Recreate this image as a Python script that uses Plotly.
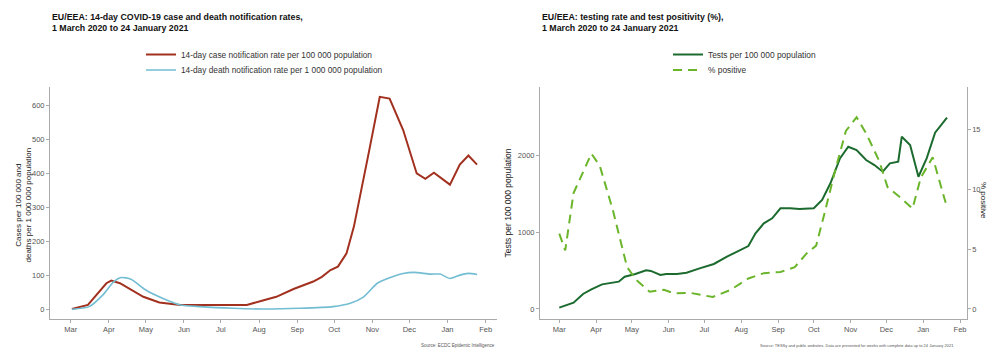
import plotly.graph_objects as go

W, H = 989, 349

# ---------------- Left panel data ----------------
case_dates = ["2020-03-02", "2020-03-15", "2020-03-30", "2020-04-03", "2020-04-10", "2020-04-29",
              "2020-05-12", "2020-05-29", "2020-06-20", "2020-07-05", "2020-07-22", "2020-08-04",
              "2020-08-15", "2020-08-29", "2020-09-07", "2020-09-14", "2020-09-21", "2020-09-28",
              "2020-10-04", "2020-10-11", "2020-10-17", "2020-10-22", "2020-10-29", "2020-11-07",
              "2020-11-15", "2020-11-26", "2020-12-07", "2020-12-14", "2020-12-21", "2021-01-03",
              "2021-01-11", "2021-01-18", "2021-01-25"]
case_rate = [0, 12, 76, 84, 76, 36, 19, 12, 12, 11, 12, 25, 36, 59, 71, 81, 95, 115, 125, 164,
             243, 331, 460, 626, 621, 528, 400, 384, 402, 367, 426, 453, 426]

death_dates = ["2020-03-02", "2020-03-16", "2020-03-27", "2020-04-05", "2020-04-11", "2020-04-19",
               "2020-05-01", "2020-05-15", "2020-05-29", "2020-06-14", "2020-07-11", "2020-08-04",
               "2020-09-03", "2020-09-30", "2020-10-14", "2020-10-25", "2020-11-05", "2020-11-15",
               "2020-11-26", "2020-12-05", "2020-12-18", "2020-12-26", "2021-01-03", "2021-01-11",
               "2021-01-18", "2021-01-25"]
death_rate = [-1, 7, 41, 81, 93, 88, 56, 31, 12, 7, 2, 0, 2, 7, 17, 36, 76, 92, 105, 108, 103,
              103, 90, 100, 105, 102]

# ---------------- Right panel data ----------------
test_dates = ["2020-03-01", "2020-03-07", "2020-03-13", "2020-03-21", "2020-03-28", "2020-04-06",
              "2020-04-13", "2020-04-20", "2020-04-25", "2020-05-04", "2020-05-13", "2020-05-17",
              "2020-05-25", "2020-05-30", "2020-06-08", "2020-06-16", "2020-06-27", "2020-07-09",
              "2020-07-20", "2020-07-31", "2020-08-07", "2020-08-13", "2020-08-20", "2020-08-27",
              "2020-09-03", "2020-09-11", "2020-09-19", "2020-10-01", "2020-10-08", "2020-10-15",
              "2020-10-23", "2020-10-30", "2020-11-06", "2020-11-14", "2020-11-21", "2020-11-28",
              "2020-12-04", "2020-12-11", "2020-12-14", "2020-12-21", "2020-12-28", "2021-01-04",
              "2021-01-11", "2021-01-21"]
tests_rate = [17, 52, 82, 195, 255, 320, 342, 355, 420, 455, 502, 495, 442, 455, 455, 472, 528,
              585, 680, 766, 818, 983, 1113, 1178, 1308, 1308, 1300, 1308, 1416, 1633, 1957, 2108,
              2065, 1935, 1870, 1784, 1892, 1913, 2238, 2130, 1718, 1960, 2290, 2485]

pos_dates = ["2020-03-01", "2020-03-06", "2020-03-13", "2020-03-21", "2020-03-28", "2020-04-04",
             "2020-04-15", "2020-04-27", "2020-05-05", "2020-05-16", "2020-05-28", "2020-06-06",
             "2020-06-19", "2020-07-08", "2020-07-23", "2020-08-07", "2020-08-20", "2020-09-03",
             "2020-09-15", "2020-09-25", "2020-10-03", "2020-10-10", "2020-10-19", "2020-10-28",
             "2020-11-06", "2020-11-14", "2020-11-25", "2020-12-02", "2020-12-12", "2020-12-23",
             "2020-12-30", "2021-01-09", "2021-01-21"]
pos_pct = [6.3, 4.9, 9.7, 11.5, 13.0, 12.0, 8.3, 3.5, 2.4, 1.45, 1.6, 1.3, 1.35, 1.0, 1.6, 2.55,
           3.0, 3.1, 3.5, 4.65, 5.3, 8.0, 11.6, 14.9, 16.05, 14.7, 12.4, 10.2, 9.4, 8.4, 11.0,
           12.7, 8.5]

month_ticks_start = "2020-03-01"

RED = "#A2301F"
BLUE = "#72BDD2"
DKGREEN = "#1C6B2E"
LTGREEN = "#6BB52B"
AXIS = "#AAAAAA"
FONT = "Liberation Sans, Arial"
TICKFONT = dict(family=FONT, size=7.5, color="#555555")

fig = go.Figure()

fig.add_trace(go.Scatter(x=case_dates, y=case_rate, mode="lines",
                         line=dict(color=RED, width=2),
                         name="14-day case notification rate per 100 000 population",
                         xaxis="x", yaxis="y", legend="legend"))
fig.add_trace(go.Scatter(x=death_dates, y=death_rate, mode="lines",
                         line=dict(color=BLUE, width=1.6, shape="spline", smoothing=0.6),
                         name="14-day death notification rate per 1 000 000 population",
                         xaxis="x", yaxis="y", legend="legend2"))
fig.add_trace(go.Scatter(x=test_dates, y=tests_rate, mode="lines",
                         line=dict(color=DKGREEN, width=2),
                         name="Tests per 100 000 population",
                         xaxis="x2", yaxis="y2", legend="legend3"))
fig.add_trace(go.Scatter(x=pos_dates, y=pos_pct, mode="lines",
                         line=dict(color=LTGREEN, width=2, dash="9px,6px"),
                         name="% positive",
                         xaxis="x2", yaxis="y3", legend="legend4"))

y_top = 1 - 87 / H
y_bot = 1 - 319 / H

common_x = dict(type="date", tickformat="%b", dtick="M1", tick0=month_ticks_start,
                showline=True, linecolor=AXIS, linewidth=1, ticks="outside", ticklen=3,
                tickcolor=AXIS, showgrid=False, zeroline=False, tickfont=TICKFONT)
common_y = dict(showline=True, linecolor=AXIS, linewidth=1, ticks="outside", ticklen=3,
                tickcolor=AXIS, showgrid=False, zeroline=False, tickfont=TICKFONT)


def leg(xpx, ypx, size):
    return dict(x=xpx / W, xanchor="left", y=1 - ypx / H, yanchor="middle",
                font=dict(size=size, color="#333333", family=FONT),
                bgcolor="rgba(0,0,0,0)", itemwidth=30)


fig.update_layout(
    width=W, height=H,
    margin=dict(l=0, r=0, t=0, b=0),
    paper_bgcolor="white", plot_bgcolor="white",
    font=dict(family=FONT),
    xaxis=dict(domain=[50 / W, 497 / W], anchor="y",
               range=["2020-02-13 05:00", "2021-02-10 05:00"], **common_x),
    yaxis=dict(domain=[y_bot, y_top], anchor="x", range=[-29.5, 655],
               tickvals=[0, 100, 200, 300, 400, 500, 600], **common_y),
    xaxis2=dict(domain=[540 / W, 966.7 / W], anchor="y2",
                range=["2020-02-13 19:00", "2021-02-06 14:00"], **common_x),
    yaxis2=dict(domain=[y_bot, y_top], anchor="x2", range=[-130, 2884],
                tickvals=[0, 1000, 2000],
                title=dict(text="Tests per 100 000 population",
                           font=dict(size=8.5, color="#222222"), standoff=4),
                **common_y),
    yaxis3=dict(overlaying="y2", side="right", anchor="x2", range=[-0.84, 18.58],
                tickvals=[0, 5, 10, 15], **common_y),
    legend=leg(141, 54.5, 8.3),
    legend2=leg(141, 70, 8.3),
    legend3=leg(668, 54.5, 8.4),
    legend4=leg(668, 70, 8.4),
    showlegend=True,
)

fig.add_annotation(x=50 / W, y=1 - 10 / H, xref="paper", yref="paper", xanchor="left",
                   yanchor="top", showarrow=False, align="left",
                   text="<b>EU/EEA: 14-day COVID-19 case and death notification rates,</b><br>"
                        "<b>1 March 2020 to 24 January 2021</b>",
                   font=dict(size=8.8, color="#111111"))
fig.add_annotation(x=540 / W, y=1 - 10 / H, xref="paper", yref="paper", xanchor="left",
                   yanchor="top", showarrow=False, align="left",
                   text="<b>EU/EEA: testing rate and test positivity (%),</b><br>"
                        "<b>1 March 2020 to 24 January 2021</b>",
                   font=dict(size=8.8, color="#111111"))
fig.add_annotation(x=22.5 / W, y=1 - 205 / H, xref="paper", yref="paper", showarrow=False,
                   xanchor="center", yanchor="middle", textangle=-90, align="center",
                   text="Cases per 100 000 and<br>deaths per 1 000 000 population",
                   font=dict(size=8, color="#222222"))
fig.add_annotation(x=984 / W, y=1 - 200 / H, xref="paper", yref="paper", showarrow=False,
                   xanchor="center", yanchor="middle", textangle=90, text="% positive",
                   font=dict(size=8, color="#222222"))
fig.add_annotation(x=497 / W, y=1 - 345 / H, xref="paper", yref="paper", xanchor="right",
                   yanchor="middle", showarrow=False,
                   text="Source: ECDC Epidemic Intelligence", font=dict(size=4.5, color="#555555"))
fig.add_annotation(x=956 / W, y=1 - 345 / H, xref="paper", yref="paper", xanchor="right",
                   yanchor="middle", showarrow=False,
                   text="Source: TESSy and public websites. Data are presented for weeks with complete data up to 24 January 2021",
                   font=dict(size=4, color="#555555"))

fig.write_html("out.html")
